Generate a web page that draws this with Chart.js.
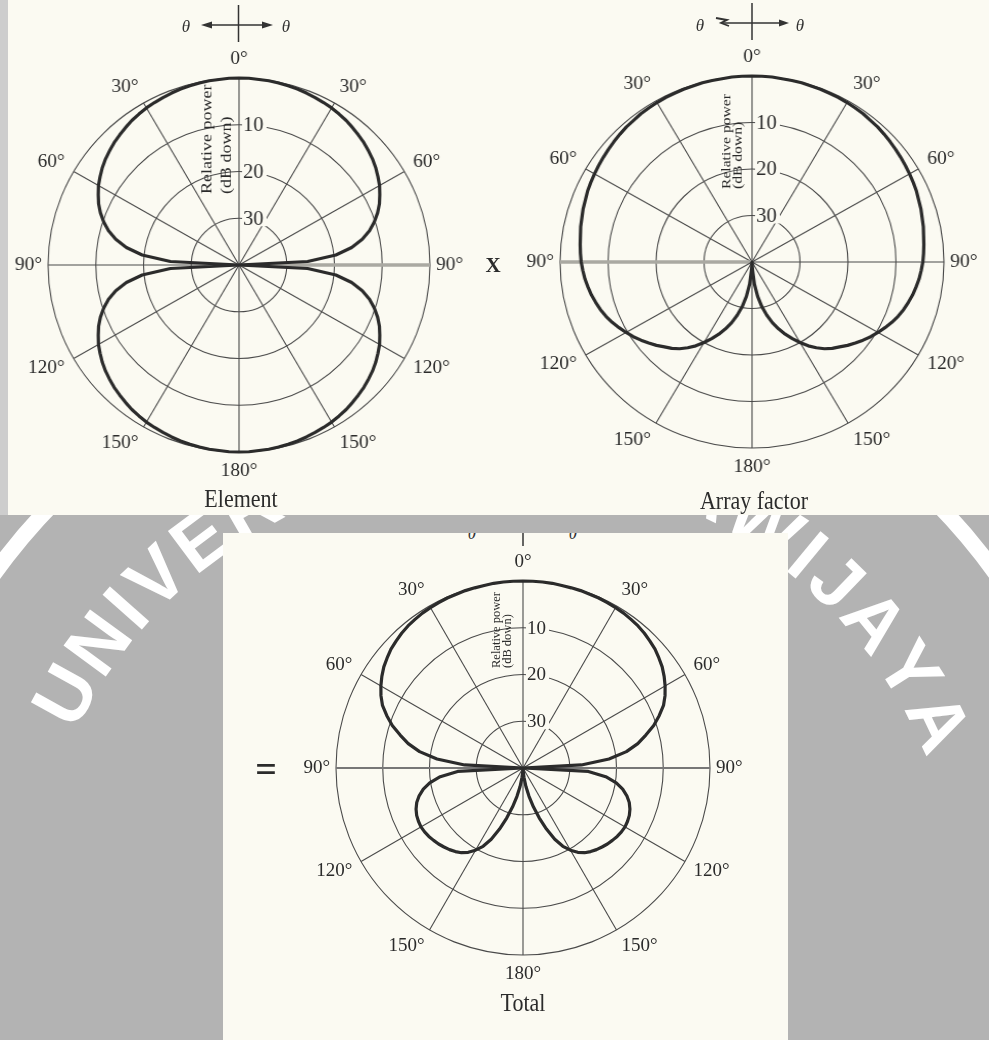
<!DOCTYPE html>
<html>
<head>
<meta charset="utf-8">
<script src="https://cdn.jsdelivr.net/npm/chart.js@4.4.1/dist/chart.umd.min.js"></script>
<style>
  html, body { margin: 0; padding: 0; }
  body {
    width: 989px; height: 1040px; position: relative; overflow: hidden;
    background: #b3b3b3; font-family: "Liberation Serif", serif; color: #2b2b2b;
  }
  #mark { position: absolute; left: 0; top: 0; width: 989px; height: 1040px; z-index: 0; }
  #ring {
    position: absolute; left: -130px; top: 309px; width: 1250px; height: 1250px;
    border: 16px solid #fff; border-radius: 50%; box-sizing: border-box;
  }
  .wm {
    position: absolute; font: bold 76px "Liberation Sans", Arial, sans-serif;
    color: #fff; line-height: 1; white-space: pre;
  }
  #strip { position: absolute; left: 0; top: 0; width: 8px; height: 515px; background: #cdcdcd; z-index: 1; }
  .panel { position: absolute; background: #fbfaf2; z-index: 1; }
  #topPanel { left: 8px; top: 0; width: 981px; height: 515px; }
  #botPanel { left: 223px; top: 533px; width: 565px; height: 507px; overflow: hidden; }
  canvas { position: absolute; z-index: 2; }
  #cElement { left: -10px; top: 16px; transform: scaleX(1.021); }
  #cArray { left: 504px; top: 14px; transform: scaleX(1.032); }
  #cTotal { left: 274px; top: 519px; }
  .txt { position: absolute; z-index: 3; white-space: nowrap; transform: translate(-50%, -50%); }
  .title { font-size: 25px; transform: translate(-50%, -50%) scaleX(0.88); }
  svg { position: absolute; left: 0; top: 0; overflow: visible; z-index: 3; }
</style>
</head>
<body>
<div id="mark"><div id="ring"></div></div>
<div id="strip"></div>
<div class="panel" id="topPanel"></div>
<div class="panel" id="botPanel">
  <svg width="565" height="40">
    <line x1="300" y1="-15" x2="300" y2="13" stroke="#333" stroke-width="1.5"/>
    <text x="249" y="6" font-family="Liberation Serif" font-style="italic" font-size="17" text-anchor="middle" fill="#333">θ</text>
    <text x="350" y="6" font-family="Liberation Serif" font-style="italic" font-size="17" text-anchor="middle" fill="#333">θ</text>
  </svg>
</div>

<canvas id="cElement" width="498" height="498"></canvas>
<canvas id="cArray" width="496" height="496"></canvas>
<canvas id="cTotal" width="498" height="498"></canvas>

<!-- direction-of-θ markers above the two upper plots -->
<svg width="989" height="60">
  <g stroke="#333" stroke-width="1.5" fill="#333">
    <line x1="238.5" y1="5" x2="238.5" y2="42"/>
    <line x1="208" y1="25" x2="266" y2="25"/>
    <polygon points="201,25 212,21.5 212,28.5" stroke="none"/>
    <polygon points="273,25 262,21.5 262,28.5" stroke="none"/>
    <line x1="752" y1="3" x2="752" y2="40"/>
    <line x1="722" y1="23" x2="782" y2="23"/>
    <polygon points="789,23 779,19.5 779,26.5" stroke="none"/>
    <path d="M716 18 L727 20 L721 23 L729 26" fill="none" stroke-width="1.8"/>
  </g>
  <g font-family="Liberation Serif" font-style="italic" font-size="17" fill="#333" text-anchor="middle">
    <text x="186" y="32">θ</text>
    <text x="286" y="32">θ</text>
    <text x="700" y="31">θ</text>
    <text x="800" y="31">θ</text>
  </g>
</svg>

<div class="txt title" id="tElement" style="left:241px;top:499px;"></div>
<div class="txt title" id="tArray" style="left:754px;top:501px;"></div>
<div class="txt title" id="tTotal" style="left:523px;top:1003px;"></div>
<div class="txt" style="left:493px;top:265px;font-size:21px;font-weight:bold;">X</div>
<div class="txt" style="left:266px;top:769px;font-size:38px;font-weight:bold;">=</div>

<script>
// ---- pattern data: relative power in dB (0 = peak), θ = 0°..180° every 3° ----
const THETA_STEP = 3;

const elementDb = [
  0, 0, -0.1, -0.1, -0.2, -0.3, -0.4, -0.6, -0.8, -1.0,
  -1.2, -1.5, -1.8, -2.2, -2.6, -3.0, -3.5, -4.0, -4.6, -5.3,
  -6.0, -6.9, -7.8, -8.9, -10.2, -11.7, -13.6, -16.1, -19.6, -25.6,
  -40,
  -25.6, -19.6, -16.1, -13.6, -11.7, -10.2, -8.9, -7.8, -6.9, -6.0,
  -5.3, -4.6, -4.0, -3.5, -3.0, -2.6, -2.2, -1.8, -1.5, -1.2,
  -1.0, -0.8, -0.6, -0.4, -0.3, -0.2, -0.1, -0.1, 0, 0
];

const arrayFactorDb = [
  0, 0, 0, -0.1, -0.1, -0.1, -0.2, -0.2, -0.3, -0.3,
  -0.4, -0.5, -0.6, -0.8, -0.9, -1.1, -1.3, -1.5, -1.7, -1.9,
  -2.1, -2.3, -2.5, -2.8, -3.0, -3.3, -3.5, -3.8, -4.0, -4.2,
  -4.4,
  -4.7, -5.0, -5.4, -5.8, -6.3, -6.8, -7.4, -8.1, -8.9, -9.7,
  -10.5, -11.4, -12.3, -13.2, -14.2, -15.0, -16.0, -17.2, -18.5, -20.0,
  -21.5, -23.0, -24.6, -26.3, -28.2, -30.2, -32.5, -35.2, -38.5, -40
];

const totalDb = [
  0, 0, 0, 0, -0.1, -0.1, -0.1, -0.2, -0.2, -0.3,
  -0.4, -0.5, -0.7, -0.9, -1.2, -1.6, -2.0, -2.6, -3.2, -4.0,
  -4.9, -5.9, -7.1, -8.8, -10.6, -12.8, -14.9, -17.6, -21.5, -27.5,
  -40,
  -26.0, -22.2, -19.8, -18.2, -17.0, -16.1, -15.5, -15.1, -14.9, -14.8,
  -14.9, -15.1, -15.4, -15.7, -16.1, -16.5, -17.0, -17.6, -18.5, -19.7,
  -21.2, -23.3, -26.0, -28.8, -31.4, -33.8, -36.0, -38.0, -39.5, -40
];

const spokeLabels = ['0°', '30°', '60°', '90°', '120°', '150°', '180°', '150°', '120°', '90°', '60°', '30°'];
const ringValues = [-10, -20, -30];
const ringLabels = ['10', '20', '30'];
const captionLines = ['Relative power', '(dB down)'];
const titles = ['Element', 'Array factor', 'Total'];

const INK = '#2b2b2b';
const GRID = '#4a4a4a';
const PAPER = '#fbfaf2';

// the patterns are symmetric about the 0°–180° axis
function fullCircle(half) {
  const out = half.slice();
  for (let i = half.length - 2; i >= 1; i--) out.push(half[i]);
  return out;
}
const angleLabels = Array.from({ length: 360 / THETA_STEP }, (_, i) => String(i * THETA_STEP));

// spoke labels, dB-down ring labels and the rotated axis caption
const polarText = {
  id: 'polarText',
  afterDatasetsDraw(chart, _args, o) {
    const s = chart.scales.r;
    const ctx = chart.ctx;
    const cx = s.xCenter, cy = s.yCenter, R = s.drawingArea;
    ctx.save();
    ctx.fillStyle = INK;
    ctx.font = o.spokeSize + 'px "Liberation Serif"';
    ctx.textBaseline = 'middle';
    spokeLabels.forEach((txt, k) => {
      const deg = k * 30;
      const pad = (deg === 90 || deg === 270) ? 6 : 10;
      const p = s.getPointPosition(k * 30 / THETA_STEP, R + pad);
      ctx.textAlign = (deg % 180 === 0) ? 'center' : (deg < 180 ? 'left' : 'right');
      ctx.fillText(txt, p.x, p.y - Math.cos(deg * Math.PI / 180) * 9);
    });

    ctx.font = o.ringSize + 'px "Liberation Serif"';
    ctx.textAlign = 'left';
    ringLabels.forEach((txt, k) => {
      const d = s.getDistanceFromCenterForValue(ringValues[k]);
      const x = cx + 4, y = cy - d;
      const w = ctx.measureText(txt).width;
      ctx.fillStyle = PAPER;
      ctx.fillRect(x - 1, y - 8, w + 4, 16);
      ctx.fillStyle = INK;
      ctx.fillText(txt, x, y + 1);
    });

    const c = o.caption;
    ctx.font = c.size + 'px "Liberation Serif"';
    ctx.textBaseline = 'alphabetic';
    [[captionLines[0], c.base1], [captionLines[1], c.base2]].forEach(([t, b]) => {
      ctx.save();
      ctx.translate(cx + b, cy - c.start);
      ctx.rotate(-Math.PI / 2);
      ctx.scale(c.stretch, 1);
      ctx.fillText(t, 0, 0);
      ctx.restore();
    });
    ctx.restore();
  }
};

function polarChart(id, half, cfg) {
  const axis = cfg.axis;
  return new Chart(document.getElementById(id), {
    type: 'radar',
    data: {
      labels: angleLabels,
      datasets: [{
        data: fullCircle(half),
        borderColor: INK,
        borderWidth: 3.2,
        borderJoinStyle: 'round',
        pointRadius: 0,
        fill: false,
        clip: false
      }]
    },
    options: {
      responsive: false,
      animation: false,
      events: [],
      layout: { padding: 62 },
      plugins: {
        legend: { display: false },
        tooltip: { enabled: false },
        polarText: cfg.text
      },
      scales: {
        r: {
          min: -40,
          max: 0,
          startAngle: 0,
          ticks: { display: false, stepSize: 10 },
          pointLabels: { display: false },
          grid: { circular: true, color: GRID, lineWidth: 1.1 },
          angleLines: {
            lineWidth: c => {
              const deg = c.index * THETA_STEP;
              if (deg % 30) return 0;
              return axis[deg] ? axis[deg][0] : 1.1;
            },
            color: c => {
              const deg = c.index * THETA_STEP;
              return axis[deg] ? axis[deg][1] : GRID;
            }
          }
        }
      }
    },
    plugins: [polarText]
  });
}

polarChart('cElement', elementDb, {
  axis: { 90: [3.5, '#aaa9a2'] },
  text: { spokeSize: 19, ringSize: 20, caption: { size: 15, stretch: 1.2, base1: -27, base2: -8, start: 71 } }
});
polarChart('cArray', arrayFactorDb, {
  axis: { 270: [3.5, '#aaa9a2'] },
  text: { spokeSize: 19, ringSize: 20, caption: { size: 13, stretch: 1.2, base1: -21, base2: -10, start: 73 } }
});
polarChart('cTotal', totalDb, {
  axis: { 90: [2, '#777'], 270: [2, '#777'] },
  text: { spokeSize: 19, ringSize: 19, caption: { size: 12.5, stretch: 1.0, base1: -23, base2: -12, start: 100 } }
});

document.getElementById('tElement').textContent = titles[0];
document.getElementById('tArray').textContent = titles[1];
document.getElementById('tTotal').textContent = titles[2];

// watermark lettering set along an arc behind the figure panels
(function () {
  const WM_TEXT = 'UNIVERSITAS BRAWIJAYA';
  const CX = 495, CY = 934, RAD = 492, GAP = 7, START = -61 * Math.PI / 180;
  const m = document.createElement('canvas').getContext('2d');
  m.font = 'bold 76px "Liberation Sans"';
  const chars = [...WM_TEXT];
  const widths = chars.map(ch => m.measureText(ch).width);
  const host = document.getElementById('mark');
  let arc = 0;
  chars.forEach((ch, i) => {
    if (i > 0) arc += widths[i - 1] / 2 + GAP + widths[i] / 2;
    if (ch === ' ') return;
    const a = START + arc / RAD;
    const el = document.createElement('div');
    el.className = 'wm';
    el.textContent = ch;
    el.style.left = (CX + RAD * Math.sin(a)) + 'px';
    el.style.top = (CY - RAD * Math.cos(a)) + 'px';
    el.style.transform = 'translate(-50%, -50%) rotate(' + a + 'rad)';
    host.appendChild(el);
  });
})();
</script>
</body>
</html>
